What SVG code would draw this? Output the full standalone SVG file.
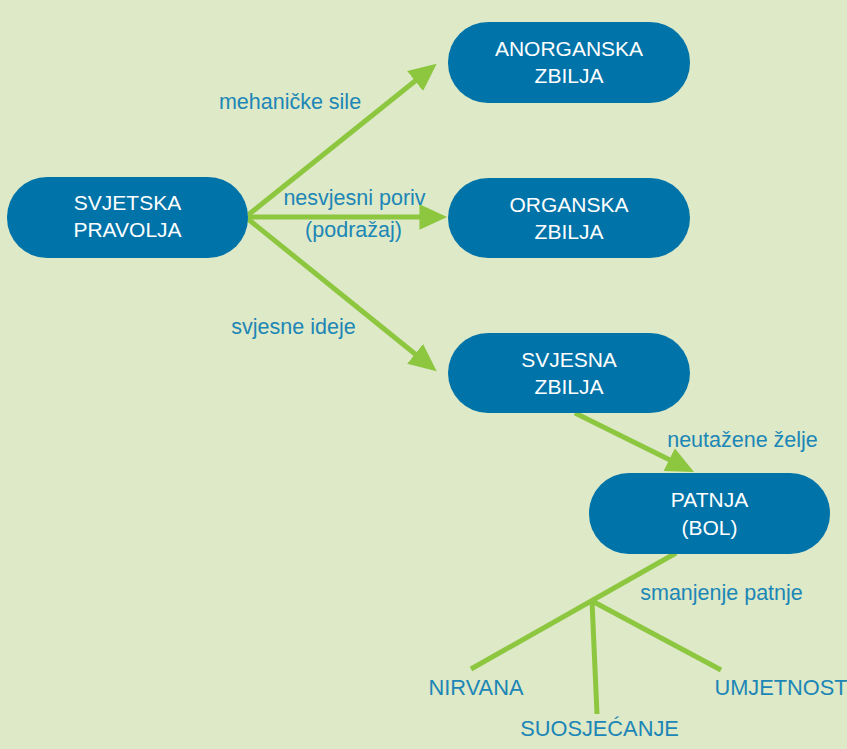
<svg xmlns="http://www.w3.org/2000/svg" width="847" height="749" viewBox="0 0 847 749">
<style>
.node rect{fill:#0073a9;}
.node text{fill:#ffffff;font-family:"Liberation Sans",Arial,sans-serif;font-size:21px;text-anchor:middle;}
.lbl{fill:#1c86b6;font-family:"Liberation Sans",Arial,sans-serif;font-size:21.5px;}
.up{font-size:21.8px;}
.edge{stroke:#8dc63f;stroke-width:5;fill:none;}
</style>
<defs>
<marker id="ah" markerUnits="userSpaceOnUse" markerWidth="30" markerHeight="30" viewBox="0 -12 26 24" refX="10" refY="0" orient="auto">
<path d="M0,-11 L24,0 L0,11 Z" fill="#8dc63f"/>
</marker>
</defs>
<rect x="0" y="0" width="847" height="749" fill="#dde9c7"/>
<g id="connectors">
<line class="edge" x1="248" y1="215" x2="424.1" y2="73.8" marker-end="url(#ah)"/>
<line class="edge" x1="248" y1="217" x2="431" y2="217" marker-end="url(#ah)"/>
<line class="edge" x1="248" y1="219" x2="424.1" y2="361.2" marker-end="url(#ah)"/>
<line class="edge" x1="575" y1="413" x2="679.5" y2="464.8" marker-end="url(#ah)"/>
<line class="edge" x1="676" y1="553" x2="471" y2="669"/>
<line class="edge" x1="592" y1="601" x2="597" y2="714"/>
<line class="edge" x1="592" y1="601" x2="721" y2="670"/>
<text class="lbl" x="290" y="109" text-anchor="middle">mehaničke sile</text>
<text class="lbl" x="354.5" y="205" text-anchor="middle">nesvjesni poriv</text>
<text class="lbl" x="353.5" y="237" text-anchor="middle">(podražaj)</text>
<text class="lbl" x="293.5" y="334" text-anchor="middle">svjesne ideje</text>
<text class="lbl" x="742.5" y="447" text-anchor="middle">neutažene želje</text>
<text class="lbl" x="721.5" y="600" text-anchor="middle">smanjenje patnje</text>
</g>
<g id="n-svjetska" class="node">
<rect x="7" y="177" width="241" height="81" rx="40"/>
<text x="127.5" y="210">SVJETSKA</text>
<text x="127.5" y="237">PRAVOLJA</text>
</g>
<g id="n-anorganska" class="node">
<rect x="448" y="22" width="242" height="81" rx="40"/>
<text x="569" y="56">ANORGANSKA</text>
<text x="569" y="83">ZBILJA</text>
</g>
<g id="n-organska" class="node">
<rect x="448" y="178" width="242" height="80" rx="40"/>
<text x="569" y="212">ORGANSKA</text>
<text x="569" y="239">ZBILJA</text>
</g>
<g id="n-svjesna" class="node">
<rect x="448" y="333" width="242" height="80" rx="40"/>
<text x="569" y="367">SVJESNA</text>
<text x="569" y="394">ZBILJA</text>
</g>
<g id="n-patnja" class="node">
<rect x="589" y="473" width="241" height="81" rx="40"/>
<text x="709.5" y="507">PATNJA</text>
<text x="709.5" y="535">(BOL)</text>
</g>
<g id="n-nirvana"><text class="lbl up" x="476" y="695" text-anchor="middle">NIRVANA</text></g>
<g id="n-suosjecanje"><text class="lbl up" x="599.5" y="736" text-anchor="middle">SUOSJEĆANJE</text></g>
<g id="n-umjetnost"><text class="lbl up" x="781" y="695" text-anchor="middle">UMJETNOST</text></g>
</svg>
